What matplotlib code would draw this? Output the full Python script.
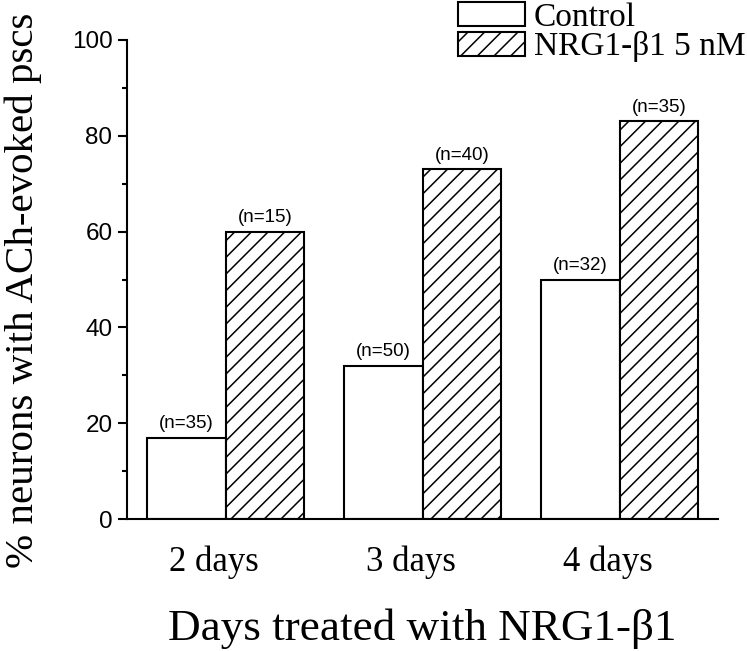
import matplotlib
matplotlib.use("Agg")
import matplotlib.pyplot as plt
import matplotlib.transforms as mtransforms
import numpy as np

# Values
DAYS = ["2 days", "3 days", "4 days"]
CONTROL_PCT = [17, 32, 50]
NRG_PCT = [60, 73, 83]
CONTROL_N = [35, 50, 32]
NRG_N = [15, 40, 35]

SERIF = "Liberation Serif"
SANS = "Liberation Sans"

plt.rcParams["hatch.linewidth"] = 1.1

fig = plt.figure(figsize=(7.47, 6.51), dpi=100)
ax = fig.add_axes([127 / 747, 1 - 519 / 651, (718 - 127) / 747, (519 - 40) / 651])

x = np.arange(len(DAYS))
w = 0.4
b1 = ax.bar(x - w / 2, CONTROL_PCT, w, color="white", edgecolor="black",
            linewidth=1.5, label="Control")
b2 = ax.bar(x + w / 2, NRG_PCT, w, color="white", edgecolor="black",
            linewidth=1.5, hatch="//", label="NRG1-β1 5 nM")

for bars, ns in ((b1, CONTROL_N), (b2, NRG_N)):
    ax.bar_label(bars, labels=[f"(n={n})" for n in ns], padding=4,
                 fontsize=13.5, family=SANS)

ax.set_xlim(-0.5, 2.5)
ax.set_ylim(0, 100)
ax.set_yticks(range(0, 101, 20))
ax.set_yticks(range(10, 100, 20), minor=True)
ax.tick_params(axis="y", which="major", length=6.5, width=1.5, labelsize=17.5, pad=4)
ax.tick_params(axis="y", which="minor", length=3.5, width=1.5)
for lab in ax.get_yticklabels():
    lab.set_family(SANS)

ax.set_xticks(x)
ax.set_xticklabels(DAYS, family=SERIF, fontsize=25)
ax.tick_params(axis="x", length=0, pad=19)
# tick labels sit a little left of the group centres in the original
shift = mtransforms.ScaledTranslation(-12 / 100, 0, fig.dpi_scale_trans)
for lab in ax.get_xticklabels():
    lab.set_transform(lab.get_transform() + shift)

for side in ("top", "right"):
    ax.spines[side].set_visible(False)
for side in ("left", "bottom"):
    ax.spines[side].set_linewidth(1.5)

ax.set_xlabel("Days treated with NRG1-β1", family=SERIF, fontsize=32.5, labelpad=21)
ax.set_ylabel("% neurons with ACh-evoked pscs", family=SERIF, fontsize=29.5)
ax.yaxis.set_label_coords(-0.144, 0.478)

fig.legend(handles=[b1, b2], loc="upper left", bbox_to_anchor=(458 / 747, 1 - 2 / 651),
           frameon=False, prop={"family": SERIF, "size": 24}, borderpad=0,
           borderaxespad=0, handlelength=2.0, handleheight=0.7,
           handletextpad=0.27, labelspacing=-0.03)

fig.savefig("out.png", dpi=100)
